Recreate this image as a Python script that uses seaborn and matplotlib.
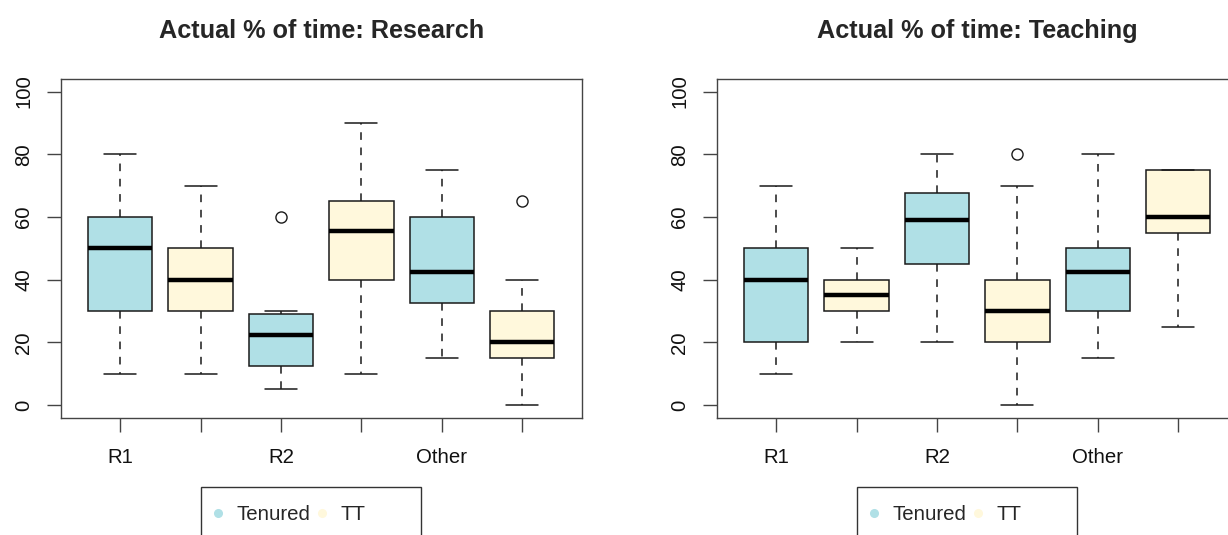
import matplotlib
matplotlib.use("Agg")
import matplotlib.pyplot as plt
from matplotlib.lines import Line2D
from matplotlib.patches import Rectangle
import seaborn as sns
import pandas as pd

# group order on the x axis: region x status
groups = ["R1 Tenured", "R1 TT", "R2 Tenured", "R2 TT", "Other Tenured", "Other TT"]
tick_labels = ["R1", "", "R2", "", "Other", ""]
statuses = ["Tenured", "TT"]

# observations per group (read so that box, whiskers and outliers match the picture)
research_r1_ten = [10, 20, 30, 40, 50, 55, 60, 70, 80]
research_r1_tt = [10, 20, 30, 35, 40, 45, 50, 60, 70]
research_r2_ten = [5, 10, 12.5, 20, 22.5, 25, 29, 30, 60]
research_r2_tt = [10, 25, 40, 50, 55.5, 60, 65, 80, 90]
research_oth_ten = [15, 25, 32.5, 40, 42.5, 50, 60, 70, 75]
research_oth_tt = [0, 10, 15, 20, 20, 25, 30, 40, 65]

teaching_r1_ten = [10, 15, 20, 30, 40, 45, 50, 60, 70]
teaching_r1_tt = [20, 25, 30, 35, 35, 40, 40, 45, 50]
teaching_r2_ten = [20, 35, 45, 55, 59, 62, 67.5, 75, 80]
teaching_r2_tt = [0, 10, 20, 25, 30, 35, 40, 70, 80]
teaching_oth_ten = [15, 20, 30, 40, 42.5, 45, 50, 60, 80]
teaching_oth_tt = [25, 50, 55, 60, 60, 70, 75, 75, 75]

research = [research_r1_ten, research_r1_tt, research_r2_ten,
            research_r2_tt, research_oth_ten, research_oth_tt]
teaching = [teaching_r1_ten, teaching_r1_tt, teaching_r2_ten,
            teaching_r2_tt, teaching_oth_ten, teaching_oth_tt]

col_ten = "#B0E0E6"  # powderblue
col_tt = "#FFF8DC"   # cornsilk
palette = [col_ten, col_tt] * 3


def to_frame(values):
    rows = []
    for g, vals in zip(groups, values):
        for v in vals:
            rows.append({"group": g, "value": v})
    return pd.DataFrame(rows)


sns.set_style("ticks")
plt.rcParams["font.family"] = ["Liberation Sans", "DejaVu Sans"]

W, H = 1228, 535
fig = plt.figure(figsize=(W / 100, H / 100), dpi=100)

ax_w = 521
ax_h = 338.7
ax_top = 79
ax_lefts = [60.7, 716.7]
panels = [("Actual % of time: Research", research),
          ("Actual % of time: Teaching", teaching)]

edge = "#1a1a1a"
for left, (title, values) in zip(ax_lefts, panels):
    ax = fig.add_axes([left / W, (H - ax_top - ax_h) / H, ax_w / W, ax_h / H])
    df = to_frame(values)
    sns.boxplot(data=df, x="group", y="value", hue="group", order=groups,
                hue_order=groups, palette=palette, legend=False, width=0.8,
                saturation=1, linewidth=1.1, linecolor=edge,
                whiskerprops=dict(linestyle=(0, (5, 5))),
                medianprops=dict(color="black", linewidth=3.2),
                flierprops=dict(marker="o", markerfacecolor="none",
                                markeredgecolor=edge, markersize=8,
                                markeredgewidth=1.0),
                ax=ax)
    ax.set_xlim(-0.74, 5.74)
    ax.set_ylim(-4, 104)
    ax.set_xticks(range(6))
    ax.set_xticklabels(tick_labels, fontsize=14.7)
    ax.set_yticks([0, 20, 40, 60, 80, 100])
    ax.set_yticklabels(["0", "20", "40", "60", "80", "100"], rotation=90,
                       va="center", fontsize=14.7)
    ax.set_xlabel("")
    ax.set_ylabel("")
    ax.tick_params(axis="both", direction="out", length=9.9, width=1.0,
                   color="#444444", labelcolor="#111111",
                   bottom=True, left=True, top=False, right=False)
    ax.tick_params(axis="x", pad=12)
    ax.tick_params(axis="y", pad=10)
    for sp in ax.spines.values():
        sp.set_visible(True)
        sp.set_color("#444444")
        sp.set_linewidth(1.0)
    ax.set_title(title, fontsize=18.2, fontweight="bold", pad=29.5)

    # legend box below the panel (cut by the picture's lower edge)
    box_l = left + 140
    fig.add_artist(Rectangle((box_l / W, -0.1), 220.3 / W, (H - 487.3) / H + 0.1,
                             transform=fig.transFigure, fill=False,
                             edgecolor="#333333", linewidth=1.0))
    handles = [Line2D([], [], linestyle="none", marker="o", markersize=5.5,
                      markerfacecolor=c, markeredgecolor=c)
               for c in [col_ten, col_tt]]
    fig.legend(handles, statuses, loc="center left",
               bbox_to_anchor=((box_l + 8.1) / W, (H - 515) / H),
               frameon=False, ncol=2, fontsize=14.7, borderpad=0,
               borderaxespad=0, handlelength=0.9, handletextpad=0.47,
               columnspacing=0.1)

fig.savefig("out.png", dpi=100)
